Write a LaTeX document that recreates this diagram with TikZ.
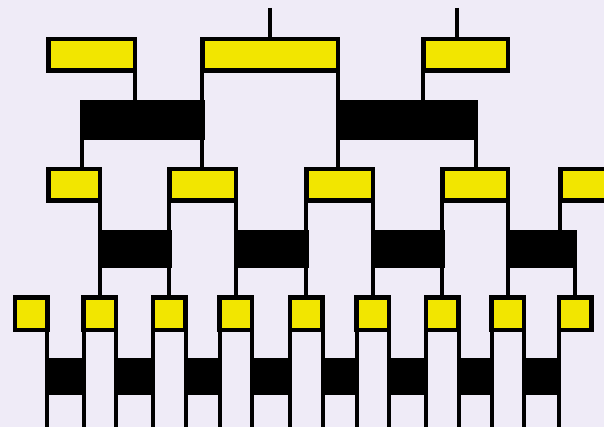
\documentclass[tikz,border=0pt]{standalone}
\definecolor{bgc}{RGB}{239,235,247}
\definecolor{yel}{RGB}{242,230,0}
\tikzset{
  ybox/.style={draw=black,fill=yel,line width=4.5pt,inner sep=0pt,outer sep=0pt},
  bbox/.style={draw=black,fill=black,line width=4.5pt,inner sep=0pt,outer sep=0pt},
  sbox/.style={bbox,line width=4pt},
  wire/.style={draw=black,line width=4pt}
}
\newcommand\mkbox[6]{\node[#6,minimum width={(#3)-(#2)},minimum height={(#5)-(#4)}] (#1) at ({((#2)+(#3))/2},{((#4)+(#5))/2}) {};}
\begin{document}
\begin{tikzpicture}[x=1pt,y=-1pt]
\useasboundingbox (0,0) rectangle (604,427);
\clip (0,0) rectangle (604,427);
\fill[bgc] (0,0) rectangle (604,427);
% row 1
\mkbox{A}{48.25}{134.75}{39.25}{70.75}{ybox}
\mkbox{B}{202.25}{337.75}{39.25}{70.75}{ybox}
\mkbox{C}{423.25}{507.75}{39.25}{70.75}{ybox}
% row 2
\mkbox{D}{82.25}{202.25}{102.25}{137.75}{bbox}
\mkbox{E}{337.75}{475.5}{102.25}{137.75}{bbox}
% row 3
\mkbox{F}{48.25}{99.75}{169.25}{200.75}{ybox}
\mkbox{G}{169.25}{235.75}{169.25}{200.75}{ybox}
\mkbox{H}{306.25}{372.75}{169.25}{200.75}{ybox}
\mkbox{I}{442.25}{507.75}{169.25}{200.75}{ybox}
\mkbox{J}{560.25}{627.75}{169.25}{200.75}{ybox}
% row 4
\mkbox{K}{99.75}{169.25}{232.25}{265.75}{bbox}
\mkbox{L}{235.75}{306.25}{232.25}{265.75}{bbox}
\mkbox{M}{372.75}{442.25}{232.25}{265.75}{bbox}
\mkbox{N}{507.75}{575}{232.25}{265.75}{bbox}
% row 5
\mkbox{s1}{14.75}{47.25}{297.25}{329.75}{ybox}
\mkbox{s2}{83.5}{116}{297.25}{329.75}{ybox}
\mkbox{s3}{153}{185.5}{297.25}{329.75}{ybox}
\mkbox{s4}{219.5}{252}{297.25}{329.75}{ybox}
\mkbox{s5}{290}{322.5}{297.25}{329.75}{ybox}
\mkbox{s6}{356.5}{389}{297.25}{329.75}{ybox}
\mkbox{s7}{426}{458.5}{297.25}{329.75}{ybox}
\mkbox{s8}{491.5}{524}{297.25}{329.75}{ybox}
\mkbox{s9}{558.75}{591.25}{297.25}{329.75}{ybox}
% row 6
\mkbox{a}{47.25}{83.5}{360}{393}{sbox}
\mkbox{b}{116}{153}{360}{393}{sbox}
\mkbox{c}{185.5}{219.5}{360}{393}{sbox}
\mkbox{d}{252}{290}{360}{393}{sbox}
\mkbox{e}{322.5}{356.5}{360}{393}{sbox}
\mkbox{f}{389}{426}{360}{393}{sbox}
\mkbox{g}{458.5}{491.5}{360}{393}{sbox}
\mkbox{h}{524}{558.75}{360}{393}{sbox}
% free ends
\coordinate (t1) at (270,8);
\coordinate (t2) at (457,8);
\coordinate (bot) at (0,430);
% top stubs
\draw[wire] (t1) -- (t1 |- B.north);
\draw[wire] (t2) -- (t2 |- C.north);
% row 1 -> row 2
\draw[wire] (A.south east) -- (A.south east |- D.north);
\draw[wire] (B.south west) -- (D.north east);
\draw[wire] (B.south east) -- (E.north west);
\draw[wire] (C.south west) -- (C.south west |- E.north);
% row 2 -> row 3
\draw[wire] (D.south west) -- (D.south west |- F.north);
\draw[wire] (D.south east) -- (D.south east |- G.north);
\draw[wire] (E.south west) -- (E.south west |- H.north);
\draw[wire] (E.south east) -- (E.south east |- I.north);
% row 3 -> row 4
\draw[wire] (F.south east) -- (K.north west);
\draw[wire] (G.south west) -- (K.north east);
\draw[wire] (G.south east) -- (L.north west);
\draw[wire] (H.south west) -- (L.north east);
\draw[wire] (H.south east) -- (M.north west);
\draw[wire] (I.south west) -- (M.north east);
\draw[wire] (I.south east) -- (N.north west);
\draw[wire] (J.south west) -- (J.south west |- N.north);
% row 4 -> row 5
\draw[wire] (K.south west) -- (s2.north);
\draw[wire] (K.south east) -- (s3.north);
\draw[wire] (L.south west) -- (s4.north);
\draw[wire] (L.south east) -- (s5.north);
\draw[wire] (M.south west) -- (s6.north);
\draw[wire] (M.south east) -- (s7.north);
\draw[wire] (N.south west) -- (s8.north);
\draw[wire] (N.south east) -- (s9.north);
% row 5 -> row 6 -> bottom
\foreach \u/\v/\w in {s1/s2/a, s2/s3/b, s3/s4/c, s4/s5/d, s5/s6/e, s6/s7/f, s7/s8/g, s8/s9/h}{
  \draw[wire] (\u.south east) -- (\w.north west);
  \draw[wire] (\v.south west) -- (\w.north east);
  \draw[wire] (\w.south west) -- (\w.south west |- bot);
  \draw[wire] (\w.south east) -- (\w.south east |- bot);
}
\end{tikzpicture}
\end{document}
